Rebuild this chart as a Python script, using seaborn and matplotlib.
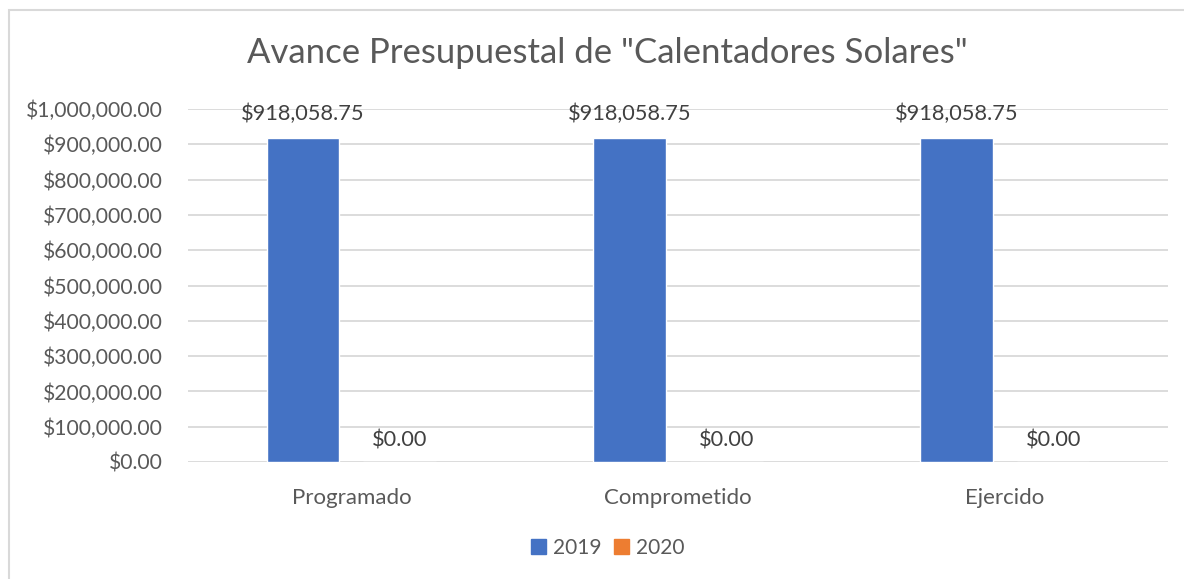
import pandas as pd
import seaborn as sns
import matplotlib.pyplot as plt
from matplotlib.patches import Rectangle
from matplotlib.ticker import FuncFormatter

# datos
categorias = ["Programado", "Comprometido", "Ejercido"]
anios = ["2019", "2020"]
valores_2019 = [918058.75, 918058.75, 918058.75]
valores_2020 = [0.0, 0.0, 0.0]
colores = ["#4472C4", "#ED7D31"]

df = pd.DataFrame({
    "Concepto": categorias * 2,
    "Anio": [anios[0]] * 3 + [anios[1]] * 3,
    "Monto": valores_2019 + valores_2020,
})

sns.set_style("white")
plt.rcParams["font.family"] = ["Lato", "DejaVu Sans"]
gris = "#595959"

fig = plt.figure(figsize=(11.84, 5.79), dpi=100)
ax = fig.add_axes([0.1588, 0.2021, 0.8277, 0.6096])

sns.barplot(data=df, x="Concepto", y="Monto", hue="Anio", palette=colores,
            width=0.593, gap=0.25, saturation=1, ax=ax, legend=True)

ax.set_ylim(0, 1000000)
ax.set_xlim(-0.5, 2.5)
ax.set_yticks(range(0, 1000001, 100000))
ax.yaxis.set_major_formatter(FuncFormatter(lambda v, p: "${:,.2f}".format(v)))
ax.grid(axis="y", color="#D9D9D9", linewidth=1.3)
ax.set_axisbelow(True)
for s in ax.spines.values():
    s.set_visible(False)
ax.tick_params(axis="y", length=0, pad=18, labelsize=15.2, labelcolor=gris)
ax.tick_params(axis="x", length=0, pad=19, labelsize=16, labelcolor=gris)
ax.set_xlabel("")
ax.set_ylabel("")

# etiquetas de datos
for cont in ax.containers:
    for bar in cont:
        h = bar.get_height()
        ax.annotate("${:,.2f}".format(h), (bar.get_x() + bar.get_width() / 2, h),
                    xytext=(0, 10 if h > 0 else 8), textcoords="offset points",
                    ha="center", va="bottom", fontsize=15.7, color="#404040")

fig.text(0.513, 0.908, 'Avance Presupuestal de "Calentadores Solares"',
         ha="center", va="center", fontsize=25, color=gris)

ax.legend_.remove()
handles = [Rectangle((0, 0), 1, 1, color=c) for c in colores]
fig.legend(handles, anios, loc="center", bbox_to_anchor=(0.513, 0.054), ncol=2,
           frameon=False, fontsize=15, handlelength=0.75, handleheight=0.75,
           handletextpad=0.3, columnspacing=0.6, labelcolor=gris)

# borde del grafico
fig.patches.append(Rectangle((9 / 1184, -0.1), 1.2, 1 - 10 / 579 + 0.1,
                             transform=fig.transFigure, fill=False,
                             edgecolor="#D9D9D9", linewidth=1.5))

fig.savefig("out.png", dpi=100)
